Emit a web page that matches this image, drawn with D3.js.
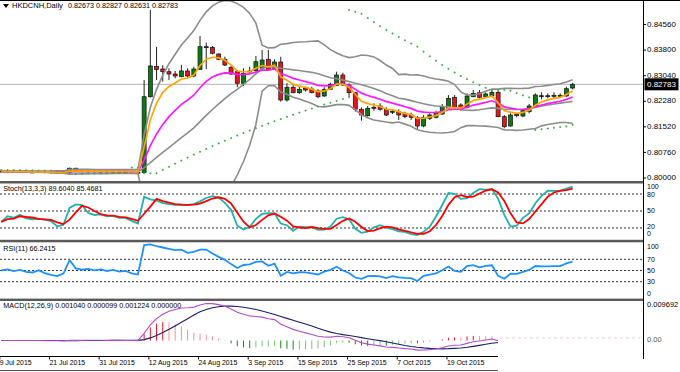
<!DOCTYPE html>
<html><head><meta charset="utf-8">
<script src="https://cdn.jsdelivr.net/npm/d3@7"></script>
<style>
body{margin:0;background:#fff;}
svg{display:block;font-family:"Liberation Sans",Arial,sans-serif;}
</style>
</head><body>
<svg id="c" width="680" height="372"></svg>
<script>
// ---------------- DATA ----------------
const opens = [0.80205,0.80190,0.80200,0.80185,0.80195,0.80180,0.80175,0.80190,0.80185,0.80175,
0.80145,0.80160,0.80290,0.80215,0.80200,0.80210,0.80195,0.80205,0.80190,0.80200,
0.80185,0.80190,0.80170,0.80160,0.82415,0.83313,0.83238,0.83158,0.83090,0.83010,
0.83179,0.83030,0.83229,0.83882,0.83882,0.83684,0.83527,0.83289,0.83158,0.82814,
0.83179,0.83188,0.83259,0.83527,0.83259,0.83446,0.82317,0.82695,0.82534,0.82665,
0.82644,0.82585,0.82436,0.82635,0.82742,0.83060,0.82763,0.82534,0.82041,0.81851,
0.82100,0.82139,0.82041,0.81970,0.81970,0.81922,0.81872,0.81792,0.81545,0.81774,
0.81803,0.81901,0.82071,0.82398,0.82169,0.82100,0.82415,0.82534,0.82415,0.82436,
0.82546,0.81821,0.81545,0.81892,0.81842,0.81970,0.82118,0.82436,0.82436,0.82445,
0.82445,0.82436,0.82673];
const highs = [0.80235,0.80230,0.80225,0.80225,0.80220,0.80215,0.80220,0.80210,0.80200,0.80195,
0.80190,0.80310,0.80305,0.80240,0.80235,0.80235,0.80230,0.80230,0.80225,0.80225,
0.80220,0.80210,0.80200,0.82912,0.84990,0.83892,0.83357,0.83259,0.83179,0.83357,
0.83259,0.83307,0.84219,0.84020,0.83921,0.83705,0.83604,0.83328,0.83209,0.83259,
0.83307,0.83625,0.83803,0.83803,0.83527,0.83604,0.82814,0.82763,0.82733,0.82713,
0.82713,0.82635,0.82695,0.82832,0.83158,0.83128,0.82814,0.82564,0.82100,0.82139,
0.82219,0.82219,0.82100,0.82041,0.82041,0.81970,0.81940,0.81842,0.81872,0.81922,
0.82000,0.82198,0.82466,0.82466,0.82219,0.82516,0.82614,0.82614,0.82546,0.82614,
0.82593,0.81872,0.81922,0.81922,0.82041,0.82198,0.82516,0.82546,0.82516,0.82546,
0.82516,0.82713,0.82827];
const lows = [0.80170,0.80165,0.80160,0.80160,0.80155,0.80150,0.80150,0.80145,0.80130,0.80125,
0.80120,0.80150,0.80200,0.80175,0.80170,0.80165,0.80170,0.80165,0.80165,0.80160,
0.80160,0.80150,0.80140,0.80140,0.82390,0.82912,0.82861,0.82912,0.82962,0.82992,
0.82992,0.82992,0.83209,0.83229,0.83675,0.83506,0.83328,0.83060,0.82695,0.82733,
0.83090,0.83158,0.83209,0.83209,0.83209,0.82267,0.82267,0.82516,0.82496,0.82564,
0.82516,0.82368,0.82415,0.82614,0.82733,0.82733,0.82380,0.81970,0.81702,0.81821,
0.82000,0.82000,0.81842,0.81901,0.81723,0.81774,0.81723,0.81426,0.81506,0.81723,
0.81774,0.81872,0.82041,0.82071,0.82000,0.82071,0.82398,0.82368,0.82398,0.82398,
0.81803,0.81477,0.81524,0.81803,0.81803,0.81922,0.82100,0.82338,0.82368,0.82368,
0.82398,0.82415,0.82631];
const closes = [0.80190,0.80200,0.80185,0.80195,0.80180,0.80175,0.80190,0.80170,0.80155,0.80145,
0.80160,0.80290,0.80215,0.80200,0.80210,0.80195,0.80205,0.80190,0.80200,0.80185,
0.80190,0.80170,0.80160,0.82415,0.83328,0.83224,0.83158,0.83090,0.83030,0.83179,
0.83030,0.83238,0.83901,0.83901,0.83705,0.83527,0.83357,0.83090,0.82814,0.83111,
0.83170,0.83455,0.83506,0.83229,0.83446,0.82317,0.82695,0.82534,0.82635,0.82614,
0.82534,0.82415,0.82635,0.82784,0.83060,0.82763,0.82534,0.82041,0.81872,0.82071,
0.82088,0.82041,0.81872,0.81982,0.81872,0.81821,0.81803,0.81545,0.81803,0.81872,
0.81940,0.82118,0.82368,0.82100,0.82041,0.82436,0.82516,0.82398,0.82496,0.82546,
0.81821,0.81524,0.81872,0.81851,0.82000,0.82139,0.82466,0.82445,0.82445,0.82457,
0.82457,0.82653,0.82783];

const priceTicks = [0.80000,0.80760,0.81520,0.82280,0.83040,0.83800,0.84560];
const lastPrice = 0.82783;
const dateTickIdx = [0,8,16,24,32,40,48,56,64,72];
const dateTickLabels = ["9 Jul 2015","21 Jul 2015","31 Jul 2015","12 Aug 2015","24 Aug 2015",
  "3 Sep 2015","15 Sep 2015","25 Sep 2015","7 Oct 2015","19 Oct 2015"];
const titleName = "HKDCNH,Daily";
const titleValues = "0.82673 0.82827 0.82631 0.82783";
const stochTitle = "Stoch(13,3,3) 89.6040 85.4681";
const rsiTitle = "RSI(11) 66.2415";
const macdTitle = "MACD(12,26,9) 0.001040 0.000099 0.001224 0.000000";
const stochLevels = [80,50,20];
const rsiLevels = [70,50,30];
const macdTopLabel = 0.009692;

// ---------------- INDICATORS (computed from the candles) ----------------
const n = closes.length;
function ema(arr,p){const a=2/(p+1);let e=arr[0];return arr.map((v,i)=>{e=i===0?v:e+a*(v-e);return e;});}
function sma(arr,p){return arr.map((v,i)=>d3.mean(arr.slice(Math.max(0,i-p+1),i+1)));}
function bands(arr,p,k){return arr.map((v,i)=>{const w=arr.slice(Math.max(0,i-p+1),i+1);const m=d3.mean(w);
  const sd=Math.sqrt(d3.mean(w,q=>(q-m)*(q-m)));return {m:m,u:m+k*sd,l:m-k*sd};});}
function sar(h,l,step,max){
  const out=[];let up=false,af=step,ep=l[0],s=h[0],fresh=true;out.push(s);
  for(let i=1;i<h.length;i++){
    let v=s+af*(ep-s);
    if(up){
      v=Math.min(v,l[i-1],l[Math.max(0,i-2)]);
      if(l[i]<v){up=false;v=ep;ep=l[i];af=step;fresh=true;}
      else{if(h[i]>ep){ep=h[i];if(!fresh)af=Math.min(af+step,max);}fresh=false;}
    }else{
      v=Math.max(v,h[i-1],h[Math.max(0,i-2)]);
      if(h[i]>v){up=true;v=ep;ep=h[i];af=step;fresh=true;}
      else{if(l[i]<ep){ep=l[i];if(!fresh)af=Math.min(af+step,max);}fresh=false;}
    }
    s=v;out.push(s);
  }
  return out;
}
const bb = bands(closes,20,2);
const emaFast = ema(closes,5);
const emaSlow = ema(closes,12);
const sarVals = sar(highs,lows,0.02,0.2);

const num=[],den=[];
for(let i=0;i<n;i++){const s=Math.max(0,i-12);const hh=d3.max(highs.slice(s,i+1)),ll=d3.min(lows.slice(s,i+1));
  num.push(closes[i]-ll);den.push(hh-ll);}
const stK = closes.map((v,i)=>{const s=Math.max(0,i-2);const a=d3.sum(num.slice(s,i+1)),b=d3.sum(den.slice(s,i+1));return b?100*a/b:50;});
const stD = sma(stK,3);

const rsi=[];{const P=11;
  const diffs=closes.slice(1).map((v,i)=>v-closes[i]);
  const m0=d3.mean(diffs.slice(0,P),Math.abs)/2;
  let ag=m0,al=m0;rsi.push(50);
  for(let i=1;i<n;i++){const d=diffs[i-1];const g=Math.max(d,0),lo=Math.max(-d,0);
    ag=(ag*(P-1)+g)/P;al=(al*(P-1)+lo)/P;
    rsi.push(ag+al===0?50:100*ag/(ag+al));}}

const e12=ema(closes,12),e26=ema(closes,26);
const macd=e12.map((v,i)=>v-e26[i]);
const signal=sma(macd,9);
const hist=macd.map((v,i)=>v-signal[i]);

// ---------------- SCALES ----------------
const svg=d3.select("#c");
const XR=643;
const x=d3.scaleLinear().domain([0,n-1]).range([1.3,1.3+(n-1)*6.21]);
const yMain=d3.scaleLinear().domain([0.8,0.8456]).range([178,24.5]);
const yStoch=d3.scaleLinear().domain([0,100]).range([239.3,182.7]);
const yRsi=d3.scaleLinear().domain([0,100]).range([298.5,242.5]);
const yMacd=d3.scaleLinear().domain([0,macdTopLabel]).range([340.5,301]);

const defs=svg.append("defs");
function clip(id,y0,y1){defs.append("clipPath").attr("id",id).append("rect").attr("x",0).attr("y",y0).attr("width",XR).attr("height",y1-y0);}
clip("cMain",1,181);clip("cSt",183,240);clip("cRsi",242.5,298.5);clip("cMacd",301,356);

svg.append("rect").attr("width",680).attr("height",372).attr("fill","#fff");

// ---------------- MAIN PANEL ----------------
const gm=svg.append("g").attr("clip-path","url(#cMain)");
gm.append("line").attr("x1",0).attr("x2",XR).attr("y1",yMain(lastPrice)).attr("y2",yMain(lastPrice))
  .attr("stroke","#b4b4b4").attr("stroke-width",1);

const cg=gm.append("g");
d3.range(n).forEach(i=>{
  const xi=x(i);
  cg.append("line").attr("x1",xi).attr("x2",xi).attr("y1",yMain(highs[i])).attr("y2",yMain(lows[i]))
    .attr("stroke","#222").attr("stroke-width",1);
  const yo=yMain(opens[i]),yc=yMain(closes[i]);
  const top=Math.min(yo,yc),hgt=Math.max(1,Math.abs(yo-yc));
  const bull=closes[i]>opens[i]+0.00003,bear=closes[i]<opens[i]-0.00003;
  cg.append("rect").attr("x",xi-2).attr("y",top).attr("width",4).attr("height",hgt)
    .attr("fill",bull?"#0b7a12":(bear?"#e8141c":"#000"))
    .attr("stroke","#111").attr("stroke-width",0.7);
});

const lineI=(arr,ys)=>d3.line().x((d,i)=>x(i)).y(d=>ys(d))(arr);
["u","m","l"].forEach(k=>gm.append("path").attr("d",lineI(bb.map(b=>b[k]),yMain)).attr("fill","none")
  .attr("stroke","#8c8c8c").attr("stroke-width",1.6));
gm.append("path").attr("d",lineI(emaSlow,yMain)).attr("fill","none").attr("stroke","#ff19ff").attr("stroke-width",1.7);
gm.append("path").attr("d",lineI(emaFast,yMain)).attr("fill","none").attr("stroke","#ffa500").attr("stroke-width",1.7);
gm.selectAll("path.sar").data(sarVals).enter().append("path").attr("class","sar")
  .attr("d",(d,i)=>{const cx=x(i),cy=yMain(d);return `M${cx-1},${cy}H${cx+1}M${cx},${cy-1}V${cy+1}`;})
  .attr("stroke","#3cb043").attr("stroke-width",1);

// ---------------- STOCH ----------------
const gs=svg.append("g").attr("clip-path","url(#cSt)");
stochLevels.forEach(v=>gs.append("line").attr("x1",0).attr("x2",XR).attr("y1",yStoch(v)).attr("y2",yStoch(v))
  .attr("stroke","#333").attr("stroke-dasharray","2,2").attr("stroke-width",1));
gs.append("path").attr("d",lineI(stK,yStoch)).attr("fill","none").attr("stroke","#20b2aa").attr("stroke-width",1.8);
gs.append("path").attr("d",lineI(stD,yStoch)).attr("fill","none").attr("stroke","#ff0000").attr("stroke-width",1.8);

// ---------------- RSI ----------------
const gr=svg.append("g").attr("clip-path","url(#cRsi)");
rsiLevels.forEach(v=>gr.append("line").attr("x1",0).attr("x2",XR).attr("y1",yRsi(v)).attr("y2",yRsi(v))
  .attr("stroke","#333").attr("stroke-dasharray","2,2").attr("stroke-width",1));
gr.append("path").attr("d",lineI(rsi,yRsi)).attr("fill","none").attr("stroke","#1e90ff").attr("stroke-width",1.8);

// ---------------- MACD ----------------
const gd=svg.append("g").attr("clip-path","url(#cMacd)");
hist.forEach((h,i)=>{
  const prev=i>0?hist[i-1]:0;
  const col=h>=0?(h>=prev?"#ee1122":"#ff8c9c"):(h<=prev?"#118811":"#7cc47c");
  gd.append("line").attr("x1",x(i)).attr("x2",x(i)).attr("y1",yMacd(0)).attr("y2",yMacd(h))
    .attr("stroke",col).attr("stroke-width",1);
});
gd.append("path").attr("d",lineI(signal,yMacd)).attr("fill","none").attr("stroke","#1c1c6c").attr("stroke-width",1.1);
gd.append("path").attr("d",lineI(macd,yMacd)).attr("fill","none").attr("stroke","#b44cc8").attr("stroke-width",1.1);

// ---------------- FRAMES ----------------
svg.append("line").attr("x1",0).attr("x2",680).attr("y1",0.5).attr("y2",0.5).attr("stroke","#000");
[[181,183.5],[239.8,242.3],[298.6,301]].forEach(([a,b])=>
  svg.append("rect").attr("x",0).attr("y",a).attr("width",XR).attr("height",b-a).attr("fill","#5a5a5a"));
svg.append("line").attr("x1",XR+0.5).attr("x2",XR+0.5).attr("y1",0).attr("y2",359).attr("stroke","#000");
svg.append("line").attr("x1",0).attr("x2",XR).attr("y1",356.5).attr("y2",356.5).attr("stroke","#000");
svg.append("line").attr("x1",0).attr("x2",XR).attr("y1",370.5).attr("y2",370.5).attr("stroke","#555");

// ---------------- TEXT ----------------
const T=(t,xx,yy,fs,opt={})=>svg.append("text").attr("x",xx).attr("y",yy).attr("font-size",fs)
  .attr("dominant-baseline","middle").attr("fill",opt.fill||"#000").text(t);
svg.append("path").attr("d","M3,4H9L6,8Z").attr("fill","#000");
T(titleName,12,6.5,7.5);
T(titleValues,68,6.5,7.2);
T(stochTitle,3.3,189.5,7.2);
T(rsiTitle,3.3,249,7.2);
T(macdTitle,3.3,306.5,7.2);

priceTicks.forEach(p=>{
  svg.append("line").attr("x1",XR).attr("x2",XR+3).attr("y1",yMain(p)).attr("y2",yMain(p)).attr("stroke","#000");
  T(d3.format(".5f")(p),647,yMain(p),8);
});
svg.append("rect").attr("x",644.5).attr("y",yMain(lastPrice)-6).attr("width",34).attr("height",12).attr("fill","#000");
T(d3.format(".5f")(lastPrice),647,yMain(lastPrice)+0.5,8,{fill:"#fff"});

T("100",647,yStoch(100)+4.3,7);
T("80",647,yStoch(80)+1.3,7);
T("50",647,yStoch(50)+0.5,7);
T("20",647,yStoch(20)-0.5,7);
T("0",647,yStoch(0)-5,7);
T("100",647,yRsi(100)+4.3,7);
rsiLevels.forEach(v=>T(String(v),647,yRsi(v)+0.5,7));
T("0",647,yRsi(0)-4.5,7);
T(String(macdTopLabel),647,yMacd(macdTopLabel)+4,7.5);

dateTickIdx.forEach((k,j)=>{
  const xx=x(k)-1.5;
  svg.append("line").attr("x1",xx).attr("x2",xx).attr("y1",356.5).attr("y2",359.5).attr("stroke","#000");
  T(dateTickLabels[j],xx,363,6.9);
});

// screenshot artefact in the lower right of the reference
svg.append("rect").attr("x",498).attr("y",334).attr("width",XR-498).attr("height",38).attr("fill","#fff");
svg.append("line").attr("x1",500).attr("x2",640).attr("y1",338).attr("y2",338).attr("stroke","#f2cad8")
  .attr("stroke-dasharray","3,3").attr("stroke-width",1);
T("0.00",647,340,7.5,{fill:"#555"});
</script>
</body></html>
